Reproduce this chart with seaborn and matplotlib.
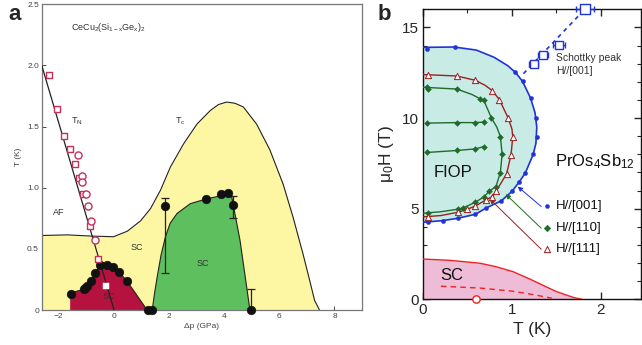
import numpy as np
import pandas as pd
import matplotlib
matplotlib.use("Agg")
import matplotlib.pyplot as plt
import seaborn as sns

sns.set_style("ticks")
plt.rcParams['font.family'] = ['Liberation Sans', 'DejaVu Sans']
plt.rcParams['mathtext.fontset'] = 'custom'
plt.rcParams['mathtext.rm'] = 'Liberation Sans'
plt.rcParams['mathtext.it'] = 'Liberation Sans'

# ---------------- Panel a data ----------------
tn_line_p = [-2.6, 0.02]
tn_line_T = [2.0, 0.0]
tn_sq_p = [-2.34, -2.04, -1.80, -1.57, -1.39, -1.26, -1.09, -0.84, -0.58]
tn_sq_T = [1.92, 1.64, 1.42, 1.32, 1.19, 1.08, 0.95, 0.69, 0.42]
tn_circ_p = [-1.30, -1.15, -1.14, -1.00, -0.91, -0.82, -0.67]
tn_circ_T = [1.27, 1.10, 1.05, 0.95, 0.85, 0.73, 0.57]
white_sq_p = [-0.27]
white_sq_T = [0.20]

tc_curve_p = [-2.6, -1.66, -0.8, 0.0, 0.5, 0.98, 1.34, 1.70, 2.06, 2.54, 3.02, 3.50, 3.80, 4.10,
              4.40, 4.70, 5.18, 5.66, 6.14, 6.50, 6.86, 7.10, 7.28, 7.46]
tc_curve_T = [0.61, 0.615, 0.605, 0.60, 0.645, 0.73, 0.83, 0.98, 1.17, 1.36, 1.52, 1.63, 1.68, 1.70,
              1.69, 1.66, 1.52, 1.31, 1.03, 0.76, 0.46, 0.245, 0.08, 0.0]

red_p = [-1.57, -1.57, -1.08, -0.96, -0.82, -0.66, -0.50, -0.38, -0.24, -0.01, 0.20, 0.48, 1.22]
red_T = [0.0, 0.14, 0.17, 0.20, 0.24, 0.30, 0.37, 0.39, 0.37, 0.35, 0.31, 0.24, 0.0]

green_p = [1.40, 1.48, 1.58, 1.72, 1.88, 2.05, 2.30, 2.78, 3.38, 3.90, 4.10, 4.28, 4.58, 4.94]
green_T = [0.0, 0.13, 0.27, 0.45, 0.60, 0.71, 0.79, 0.87, 0.91, 0.935, 0.95, 0.925, 0.57, 0.0]

sc_pts_p = [-1.54, -1.08, -1.02, -0.96, -0.82, -0.66, -0.50, -0.24, -0.01, 0.20, 0.48, 1.26, 1.40,
            3.36, 3.90, 4.14, 4.34, 1.86, 4.96]
sc_pts_T = [0.13, 0.17, 0.185, 0.20, 0.24, 0.30, 0.37, 0.37, 0.35, 0.31, 0.24, 0.0, 0.0,
            0.91, 0.95, 0.96, 0.86, 0.85, 0.0]
err_p = [1.86, 4.34, 4.99]
err_T = [0.85, 0.86, 0.0]
err_lo = [0.55, 0.11, 0.0]
err_hi = [0.07, 0.07, 0.17]

# ---------------- Panel b data ----------------
b001_curve_T = [0.0, 0.35, 0.6, 0.8, 0.95, 1.04, 1.12, 1.21, 1.26, 1.28, 1.27, 1.24, 1.15, 1.08,
                1.0, 0.88, 0.71, 0.59, 0.39, 0.22, 0.05, 0.0]
b001_curve_H = [13.9, 13.92, 13.75, 13.35, 12.9, 12.52, 12.02, 11.1, 10.3, 9.5, 8.6, 8.0, 6.96, 6.46,
                5.95, 5.43, 5.04, 4.69, 4.47, 4.34, 4.27, 4.25]
b001_pts_T = [0.04, 0.355, 1.04, 1.12, 1.21, 1.27, 1.28, 1.24, 1.15, 1.08, 1.0, 0.88, 0.71, 0.59, 0.39, 0.22, 0.05]
b001_pts_H = [13.81, 13.92, 12.52, 12.02, 11.1, 10.0, 8.98, 8.01, 6.96, 6.46, 5.95, 5.43, 5.04, 4.69, 4.47, 4.34, 4.25]

b111_curve_T = [0.0, 0.38, 0.59, 0.70, 0.78, 0.86, 0.96, 1.0, 1.01, 0.99, 0.94, 0.82, 0.78, 0.71,
                0.59, 0.50, 0.39, 0.2, 0.0]
b111_curve_H = [12.4, 12.32, 12.08, 11.8, 11.51, 11.01, 9.98, 9.4, 8.98, 7.97, 6.92, 5.95, 5.67, 5.49,
                5.15, 4.97, 4.80, 4.62, 4.55]
b111_pts_T = [0.05, 0.38, 0.59, 0.78, 0.86, 0.96, 1.01, 0.99, 0.94, 0.82, 0.78, 0.71, 0.59, 0.50, 0.39, 0.05]
b111_pts_H = [12.39, 12.32, 12.08, 11.51, 11.01, 9.98, 8.98, 7.97, 6.92, 5.95, 5.67, 5.49, 5.15, 4.97, 4.80, 4.56]

b110_curve_T = [0.0, 0.38, 0.55, 0.64, 0.69, 0.77, 0.83, 0.87, 0.89, 0.87, 0.82, 0.74, 0.69, 0.59,
                0.45, 0.39, 0.2, 0.0]
b110_curve_H = [11.7, 11.6, 11.3, 11.07, 10.9, 10.0, 9.5, 8.98, 8.01, 6.99, 6.22, 5.95, 5.67, 5.36,
                5.04, 4.97, 4.83, 4.75]
b110_pts_T = [0.04, 0.05, 0.38, 0.64, 0.69, 0.77, 0.87, 0.89, 0.87, 0.82, 0.74, 0.69, 0.59, 0.45, 0.39, 0.05]
b110_pts_H = [11.71, 11.6, 11.6, 11.07, 11.01, 10.0, 8.98, 8.01, 6.99, 6.22, 5.95, 5.67, 5.36, 5.04, 4.97, 4.75]
b110_l1_T = [0.04, 0.38, 0.59, 0.69]
b110_l1_H = [9.72, 9.75, 9.75, 9.78]
b110_l2_T = [0.04, 0.38, 0.59, 0.69]
b110_l2_H = [8.10, 8.21, 8.30, 8.43]

schottky_T = [1.245, 1.35, 1.53, 1.82]
schottky_H = [13.0, 13.5, 14.05, 16.0]
schottky_err = [0.05, 0.055, 0.07, 0.10]
schottky_line_T = [1.13, 1.82]
schottky_line_H = [12.45, 16.0]

sc_b_T = [0.0, 0.3, 0.64, 0.82, 1.01, 1.2, 1.38, 1.5, 1.61, 1.7, 1.79]
sc_b_H = [2.22, 2.15, 1.99, 1.8, 1.53, 1.12, 0.70, 0.43, 0.24, 0.09, 0.0]
sc_dash_T = [0.2, 0.64, 1.0, 1.25, 1.45]
sc_dash_H = [0.72, 0.62, 0.45, 0.25, 0.06]
sc_circ_T = [0.6]
sc_circ_H = [0.0]

legend_labels = ['H//[001]', 'H//[110]', 'H//[111]']

# ---------------- Colours ----------------
YEL = '#fdf6a2'
RED = '#b5123f'
GRN = '#5dbf5d'
CRIM = '#c8305a'
BLUE = '#1f33d8'
DRED = '#9a1f1f'
DGRN = '#1f6b2b'
CYAN = '#c8ebe6'
PINK = '#efbcd7'

fig = plt.figure(figsize=(6.42, 3.45), dpi=100)
axA = fig.add_axes([0.065, 0.101, 0.499, 0.887])
axB = fig.add_axes([0.659, 0.1325, 0.339, 0.8405])

# ================= Panel a =================
ax = axA
ax.fill_between(tc_curve_p, 0, tc_curve_T, color=YEL, lw=0, zorder=1)
sns.lineplot(x=tc_curve_p, y=tc_curve_T, sort=False, estimator=None, ax=ax, color='#222', lw=0.8, zorder=2)
ax.fill(green_p, green_T, color=GRN, lw=0, zorder=2)
sns.lineplot(x=green_p, y=green_T, sort=False, estimator=None, ax=ax, color='#222', lw=0.8, zorder=3)
ax.fill(red_p, red_T, color=RED, lw=0, zorder=2)
sns.lineplot(x=red_p[1:], y=red_T[1:], sort=False, estimator=None, ax=ax, color='#222', lw=0.8, zorder=3)
sns.lineplot(x=tn_line_p, y=tn_line_T, sort=False, estimator=None, ax=ax, color='#222', lw=0.9, zorder=4)
ax.errorbar(err_p, err_T, yerr=[err_lo, err_hi], fmt='none', ecolor='#222', elinewidth=0.9,
            capsize=3, capthick=0.9, zorder=4)
sns.scatterplot(x=sc_pts_p, y=sc_pts_T, ax=ax, color='#111', s=40, edgecolor='#111', linewidth=0.3,
                zorder=5, clip_on=False)
sns.scatterplot(x=tn_sq_p, y=tn_sq_T, ax=ax, marker='s', facecolor='white', edgecolor=CRIM,
                s=24, linewidth=1.0, zorder=6)
sns.scatterplot(x=tn_circ_p, y=tn_circ_T, ax=ax, marker='o', facecolor='white', edgecolor=CRIM,
                s=26, linewidth=1.0, zorder=6)
sns.scatterplot(x=white_sq_p, y=white_sq_T, ax=ax, marker='s', color='white', edgecolor='white',
                s=14, zorder=6)

ax.set_xlim(-2.6, 9)
ax.set_ylim(0, 2.5)
ax.set_xticks([-2, 0, 2, 4, 6, 8])
ax.set_xticklabels(['\u22122', '0', '2', '4', '6', '8'])
ax.set_yticks([0, 0.5, 1.0, 1.5, 2.0, 2.5])
ax.set_yticklabels(['0', '0.5', '1.0', '1.5', '2.0', '2.5'])
ax.tick_params(direction='in', length=3, width=0.7, color='#444', labelsize=6, labelcolor='#444', pad=2)
for s in ax.spines.values():
    s.set_color('#777')
    s.set_linewidth(0.9)
ax.set_xlabel('\u0394p (GPa)', fontsize=6, color='#444', labelpad=2)
ax.set_ylabel('T (K)', fontsize=6, color='#444', labelpad=4)

tkw = dict(fontsize=6.5, color='#333')
ax.text(-1.54, 2.31, r'CeCu$_2$(Si$_{1-x}$Ge$_x$)$_2$', ha='left', va='center', **tkw)
ax.text(-1.32, 1.54, r'T$_\mathrm{N}$', ha='center', va='center', **tkw)
ax.text(2.42, 1.54, r'T$_\mathrm{c}$', ha='center', va='center', **tkw)
ax.text(-2.0, 0.80, 'AF', ha='center', va='center', **tkw)
ax.text(0.84, 0.51, 'SC', ha='center', va='center', **tkw)
ax.text(3.24, 0.38, 'SC', ha='center', va='center', **tkw)
ax.text(-0.16, 0.11, 'SC', ha='center', va='center', **tkw)

fig.text(8 / 642, 1 - 15 / 345, 'a', fontsize=16, fontweight='bold', ha='left', va='center')
fig.text(378 / 642, 1 - 15 / 345, 'b', fontsize=16, fontweight='bold', ha='left', va='center')

# ================= Panel b =================
ax = axB
ax.fill_betweenx(b001_curve_H, 0, b001_curve_T, color=CYAN, lw=0, zorder=1)
ax.fill_between(sc_b_T, 0, sc_b_H, color=PINK, lw=0, zorder=1)
sns.lineplot(x=sc_b_T, y=sc_b_H, sort=False, estimator=None, ax=ax, color='#ee2222', lw=1.0, zorder=3)
sns.lineplot(x=sc_dash_T, y=sc_dash_H, sort=False, estimator=None, ax=ax, color='#ee2222', lw=1.0,
             dashes=False, linestyle=(0, (4, 3)), zorder=3)
sns.scatterplot(x=sc_circ_T, y=sc_circ_H, ax=ax, marker='o', facecolor='white', edgecolor='#ee2222',
                s=28, linewidth=1.0, zorder=6, clip_on=False)

sns.lineplot(x=b001_curve_T, y=b001_curve_H, sort=False, estimator=None, ax=ax, color=BLUE, lw=1.2, zorder=3)
sns.lineplot(x=b111_curve_T, y=b111_curve_H, sort=False, estimator=None, ax=ax, color=DRED, lw=1.0, zorder=3)
sns.lineplot(x=b110_curve_T, y=b110_curve_H, sort=False, estimator=None, ax=ax, color=DGRN, lw=1.0, zorder=3)
sns.lineplot(x=b110_l1_T, y=b110_l1_H, sort=False, estimator=None, ax=ax, color=DGRN, lw=1.0, zorder=3)
sns.lineplot(x=b110_l2_T, y=b110_l2_H, sort=False, estimator=None, ax=ax, color=DGRN, lw=1.0, zorder=3)

sns.scatterplot(x=b001_pts_T, y=b001_pts_H, ax=ax, color=BLUE, edgecolor=BLUE, s=9, linewidth=0.3, zorder=5)
sns.scatterplot(x=b110_pts_T + b110_l1_T + b110_l2_T, y=b110_pts_H + b110_l1_H + b110_l2_H, ax=ax,
                marker='D', color=DGRN, edgecolor=DGRN, s=9, linewidth=0.3, zorder=5)
sns.scatterplot(x=b111_pts_T, y=b111_pts_H, ax=ax, marker='^', facecolor='white', edgecolor=DRED,
                s=20, linewidth=0.7, zorder=6)

sns.lineplot(x=schottky_line_T, y=schottky_line_H, sort=False, estimator=None, ax=ax, color=BLUE, lw=1.2,
             dashes=False, linestyle=(0, (2.5, 2.5)), zorder=3)
ax.errorbar(schottky_T, schottky_H, xerr=schottky_err, fmt='none', ecolor=BLUE, elinewidth=1.0,
            capsize=2.5, capthick=1.0, zorder=6, clip_on=False)
sns.scatterplot(x=schottky_T[:3], y=schottky_H[:3], ax=ax, marker='s', facecolor='white', edgecolor=BLUE,
                s=28, linewidth=1.0, zorder=7)
sns.scatterplot(x=schottky_T[3:], y=schottky_H[3:], ax=ax, marker='s', facecolor='white', edgecolor=BLUE,
                s=45, linewidth=1.0, zorder=7, clip_on=False)

# legend with arrows
leg_H = [5.12, 3.92, 2.76]
leg_targets = [(1.065, 6.22), (0.93, 5.8), (0.75, 5.54)]
leg_cols = [BLUE, DGRN, DRED]
leg_mk = [dict(marker='o', color=BLUE, edgecolor=BLUE, s=9),
          dict(marker='D', color=DGRN, edgecolor=DGRN, s=12),
          dict(marker='^', facecolor='white', edgecolor=DRED, s=20, linewidth=0.7)]
for h, lab, tgt, c, mk in zip(leg_H, legend_labels, leg_targets, leg_cols, leg_mk):
    sns.scatterplot(x=[1.40], y=[h], ax=ax, zorder=6, **mk)
    ax.text(1.49, h, lab, fontsize=9.5, ha='left', va='center', color='#111')
    ax.annotate('', xy=tgt, xytext=(1.33, h),
                arrowprops=dict(arrowstyle='-|>', color=c, lw=0.7, mutation_scale=7, shrinkA=0, shrinkB=0))

ax.text(0.34, 6.97, 'FIOP', fontsize=12, ha='center', va='center', color='#111')
ax.text(1.94, 7.6, r'PrOs$_4$Sb$_{12}$', fontsize=12, ha='center', va='center', color='#111')
ax.text(0.32, 1.34, 'SC', fontsize=12, ha='center', va='center', color='#111')
ax.text(1.50, 13.3, 'Schottky peak', fontsize=7.5, ha='left', va='center', color='#333')
ax.text(1.50, 12.62, 'H//[001]', fontsize=7.5, ha='left', va='center', color='#333')

ax.set_xlim(0, 2.45)
ax.set_ylim(0, 16)
ax.set_xticks([0, 1, 2])
ax.set_yticks([0, 5, 10, 15])
ax.set_xticks([0.5, 1.5], minor=True)
ax.set_yticks([1, 2, 3, 4, 6, 7, 8, 9, 11, 12, 13, 14], minor=True)
ax.tick_params(which='major', direction='in', length=5, width=1, labelsize=11, top=True, right=True, pad=3)
ax.tick_params(which='minor', direction='in', length=3, width=0.8, top=True, right=True)
for s in ax.spines.values():
    s.set_color('#111')
    s.set_linewidth(1.0)
ax.set_xlabel('T (K)', fontsize=12.5, labelpad=3)
ax.set_ylabel('\u03bc$_0$H (T)', fontsize=12.5, labelpad=4)

fig.savefig('out.png', dpi=100)
